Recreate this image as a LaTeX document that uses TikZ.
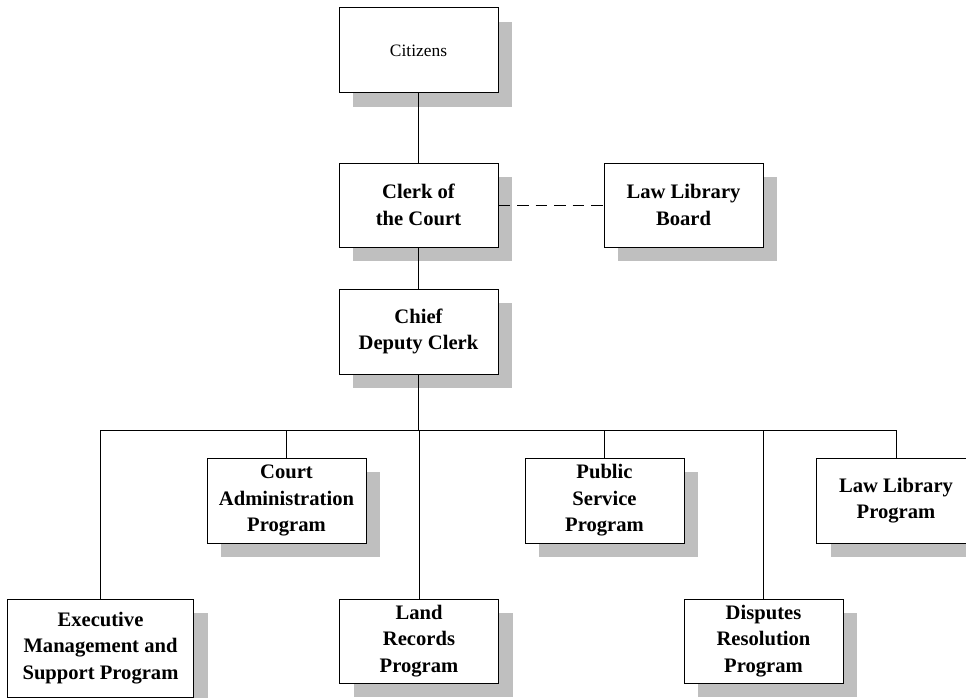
\documentclass[tikz,border=0pt]{standalone}
\usepackage{fontspec}
\setmainfont{Liberation Serif}
\usetikzlibrary{shadows}
\begin{document}
\begin{tikzpicture}[x=1pt,y=-1pt,
  box/.style={draw=black, fill=white, line width=1pt, minimum width=159pt, minimum height=85pt,
    inner sep=0pt, align=center, font=\fontsize{20.6pt}{26.5pt}\selectfont\bfseries,
    drop shadow={shadow xshift=14pt, shadow yshift=-14pt, fill=black!25, opacity=1, draw=none}},
  conn/.style={draw=black, line width=1pt},
  dash conn/.style={conn, dash pattern=on 11.5pt off 7pt}]
\useasboundingbox (0,0) rectangle (966,698);
\clip (0,0) rectangle (966,698);
\node[box, font=\fontsize{17.4pt}{21pt}\selectfont] (cit) at (418.5,50.5) {Citizens};
\node[box, minimum height=84pt] (clerk) at (418.5,205) {Clerk of\\the Court};
\node[box, minimum height=84pt] (board) at (683.5,205) {Law Library\\Board};
\node[box] (chief) at (418.5,331.5) {Chief\\Deputy Clerk};
\node[box] (court) at (286.5,500.5) {Court\\Administration\\Program};
\node[box] (pub) at (604.5,500.5) {Public\\Service\\Program};
\node[box] (llp) at (896,500.5) {Law Library\\Program};
\node[box, minimum width=186pt, minimum height=98pt] (exec) at (100.5,648) {Executive\\Management and\\Support Program};
\node[box, minimum height=84pt] (land) at (419,641) {Land\\Records\\Program};
\node[box, minimum height=84pt] (disp) at (763.5,641) {Disputes\\Resolution\\Program};
\coordinate (busL) at (100.5,430);
\coordinate (busR) at (896,430);
\draw[conn] (cit) -- (clerk);
\draw[conn] (clerk) -- (chief);
\draw[dash conn] (clerk) -- (board);
\draw[conn] (chief.south) -- (chief.south |- busL);
\draw[conn] (busL) -- (busR);
\foreach \n in {court,pub,llp,exec,land,disp}
  \draw[conn] (\n.north) -- (\n.north |- busL);
\end{tikzpicture}
\end{document}
